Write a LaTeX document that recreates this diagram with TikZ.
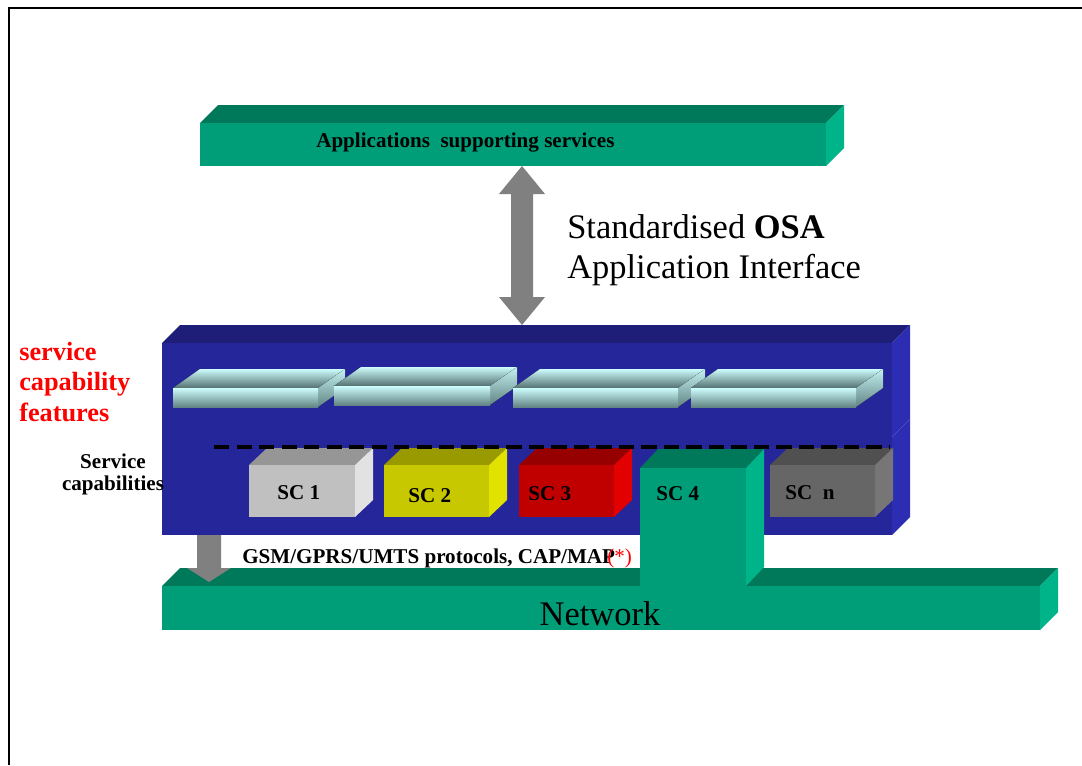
\documentclass[tikz,border=0pt]{standalone}
\usepackage{fontspec}
\setmainfont{Liberation Serif}
\usetikzlibrary{calc}
\definecolor{netfront}{RGB}{0,158,120}
\definecolor{nettop}{RGB}{0,120,90}
\definecolor{netside}{RGB}{0,180,138}
\definecolor{blufront}{RGB}{38,38,155}
\definecolor{blutop}{RGB}{30,30,120}
\definecolor{bluside}{RGB}{45,45,180}
\definecolor{bluseam}{RGB}{80,80,210}
\definecolor{slablight}{RGB}{205,252,252}
\definecolor{slabdark}{RGB}{98,132,132}
\definecolor{scgreyfront}{RGB}{192,192,192}
\definecolor{scgreytop}{RGB}{150,150,150}
\definecolor{scgreyside}{RGB}{226,226,226}
\definecolor{scyelfront}{RGB}{200,200,0}
\definecolor{scyeltop}{RGB}{153,153,0}
\definecolor{scyelside}{RGB}{226,226,0}
\definecolor{scredfront}{RGB}{192,0,0}
\definecolor{scredtop}{RGB}{150,0,0}
\definecolor{scredside}{RGB}{226,0,0}
\definecolor{scdarkfront}{RGB}{102,102,102}
\definecolor{scdarktop}{RGB}{80,80,80}
\definecolor{scdarkside}{RGB}{118,118,118}
\definecolor{arrowgrey}{RGB}{128,128,128}
\def\cuboid(#1,#2)(#3,#4)(#5,#6)#7#8#9{%
	\fill[#8] (#1,#2) -- (#1+#5,#2-#6) -- (#3+#5,#2-#6) -- (#3,#2) -- cycle;
	\fill[#9] (#3,#2) -- (#3+#5,#2-#6) -- (#3+#5,#4-#6) -- (#3,#4) -- cycle;
	\fill[#7] (#1,#2) rectangle (#3,#4);}

\begin{document}
\begin{tikzpicture}[x=0.025cm, y=-0.025cm,
		bigtext/.style={font=\fontsize{24.5}{28}\selectfont, inner sep=0pt, anchor=base west},
		boldtext/.style={font=\fontsize{15}{18}\selectfont\bfseries, inner sep=0pt, anchor=base west},
		redtext/.style={font=\fontsize{18.7}{22}\selectfont\bfseries, text=red, inner sep=0pt, anchor=base west},
		slabfront/.style={top color=slablight, bottom color=slabdark},
		slabtop/.style={top color=slablight, bottom color=slabdark!85!black},
		slabside/.style={top color=slablight!90!slabdark, bottom color=slabdark}]
		%%%%% START %%%%%
		
		\useasboundingbox (0,0) rectangle (1082,765);
		\fill[white] (0,0) rectangle (1082,765);
		\draw[line width=2.1pt] (9,765) -- (9,8) -- (1082,8);
		
		\cuboid(200,123)(826,166)(18,18){netfront}{nettop}{netside}
		
		\cuboid(162,437)(892,535)(18,18){blufront}{blutop}{bluside}
		\cuboid(162,343)(892,437)(18,18){blufront}{blutop}{bluside}
		\draw[line width=0.4pt, color=bluseam] (892,437) -- (910,419);
		
		\cuboid(173,388)(318,407)(27,19){slabfront}{slabtop}{slabside}
		\cuboid(334,386)(490,405)(27,19){slabfront}{slabtop}{slabside}
		\cuboid(513,388)(678,407)(27,19){slabfront}{slabtop}{slabside}
		\cuboid(691,388)(856,407)(27,19){slabfront}{slabtop}{slabside}
		
		\cuboid(162,586)(1040,630)(18,18){netfront}{nettop}{netside}
		
		\cuboid(249,465)(355,517)(18,17){scgreyfront}{scgreytop}{scgreyside}
		\cuboid(384,465)(489,517)(18,17){scyelfront}{scyeltop}{scyelside}
		\cuboid(519,465)(614,517)(18,17){scredfront}{scredtop}{scredside}
		\cuboid(770,465)(875,517)(18,17){scdarkfront}{scdarktop}{scdarkside}
		\cuboid(640,468)(746,586)(18,19){netfront}{nettop}{netside}
		
		\draw[line width=2.8pt, dash pattern=on 10.7pt off 5.3pt] (214,447) -- (890,447);
		
		\coordinate (apitop) at (522,166);
		\coordinate (apibot) at (522,325);
		\fill[arrowgrey] (apitop) -- ++(23,28) -- ++(-12,0) -- ($(apibot)+(11,-28)$) -- ++(12,0)
			-- (apibot) -- ++(-23,-28) -- ++(12,0) -- ($(apitop)+(-11,28)$) -- ++(-12,0) -- cycle;
		
		\coordinate (gsmtop) at (209,535);
		\coordinate (gsmtip) at (209,582);
		\fill[arrowgrey] ($(gsmtop)+(-12,0)$) -- ($(gsmtip)+(-12,-14)$) -- ++(-10,0) -- (gsmtip)
			-- ++(22,-14) -- ++(-10,0) -- ($(gsmtop)+(12,0)$) -- cycle;
		
		\node[boldtext] (apps) at (316,147) {Applications~ supporting services};
		\node[bigtext] (osa) at (567,238) {Standardised \textbf{OSA}};
		\node[bigtext] (api) at (567,278) {Application Interface};
		
		\node[redtext] (feat1) at (19,360) {service};
		\node[redtext] (feat2) at (19,390) {capability};
		\node[redtext] (feat3) at (19,421) {features};
		\node[boldtext, anchor=base] (caps1) at (113,468) {Service};
		\node[boldtext, anchor=base] (caps2) at (113,490) {capabilities};
		
		\node[boldtext] (sc1) at (277,499) {SC 1};
		\node[boldtext] (sc2) at (408,502) {SC 2};
		\node[boldtext] (sc3) at (528,500) {SC 3};
		\node[boldtext] (sc4) at (656,500) {SC 4};
		\node[boldtext] (scn) at (785,499) {SC~ n};
		
		\node[boldtext] (proto) at (242,563) {GSM/GPRS/UMTS protocols, CAP/MAP};
		\node[boldtext, text=red, font=\fontsize{15}{18}\selectfont] (star) at (607,563) {(*)};
		\node[bigtext, anchor=base] (net) at (600,625) {Network};
		
		%%%%% END %%%%%
	\end{tikzpicture}
\end{document}
